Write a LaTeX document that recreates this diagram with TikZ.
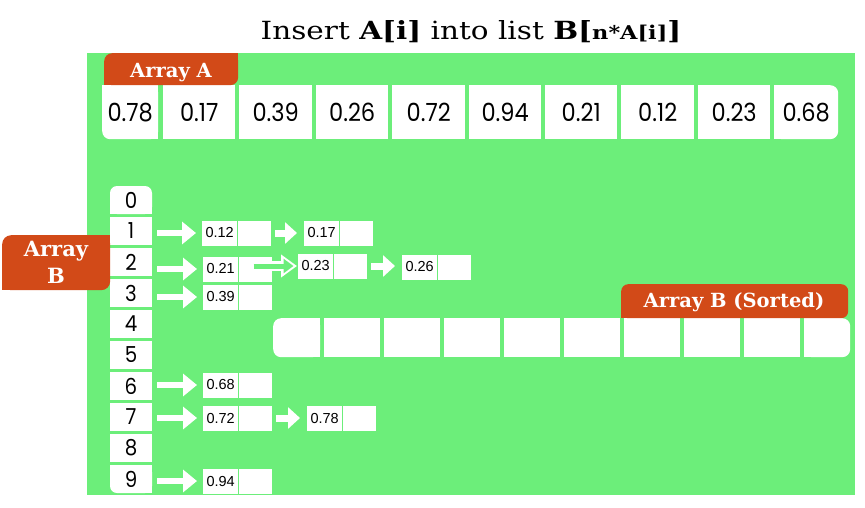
\documentclass[tikz,border=0pt]{standalone}
\usepackage{fontspec}
\setmainfont{Liberation Sans}
\newfontfamily\titlefont[FakeStretch=1.18]{DejaVu Serif}
\newfontfamily\labfont{DejaVu Serif}
\newfontfamily\numfont[FakeStretch=0.9]{Poppins}
\newfontfamily\listfont{Liberation Sans}
\usetikzlibrary{arrows.meta,calc}
\definecolor{bggreen}{RGB}{108,238,122}
\definecolor{labred}{RGB}{210,74,24}
\begin{document}
\begin{tikzpicture}[x=1pt,y=-1pt,
  cellA/.style={fill=white, inner sep=0pt, minimum height=54pt, anchor=north west,
    font=\numfont\fontsize{25}{25}\selectfont},
  idxcell/.style={fill=white, inner sep=0pt, minimum width=42pt, minimum height=28pt,
    font=\numfont\fontsize{22}{22}\selectfont},
  vbox/.style={fill=white, inner sep=0pt, minimum width=35pt, minimum height=25pt, anchor=west,
    font=\listfont\fontsize{14.5}{14.5}\selectfont},
  ebox/.style={fill=white, inner sep=0pt, minimum width=33pt, minimum height=25pt, anchor=west},
  scell/.style={fill=white, inner sep=0pt, minimum height=39pt, anchor=north west},
  labtext/.style={text=white, anchor=base, font=\labfont\bfseries\fontsize{19.5}{19.5}\selectfont},
  bigarrow/.style={white, line width=5.5pt, shorten <=5pt, shorten >=6pt,
    -{Triangle[length=14pt,width=22pt]}},
  smallarrow/.style={white, line width=7pt, shorten <=4pt, shorten >=7pt,
    -{Triangle[length=12pt,width=21pt]}}
]
\useasboundingbox (0,0) rectangle (865,507);
\fill[white] (0,0) rectangle (865,507);
% background
\fill[bggreen] (87,53) rectangle (855,495);

% title
\node[anchor=base, font=\titlefont\fontsize{25}{25}\selectfont] (title) at (471,39)
  {Insert \textbf{A[i]} into list \textbf{B[}{\bfseries\fontsize{19}{19}\selectfont n*A[i]}\textbf{]}};

% ---------- Array A ----------
\fill[white] (130,85) rectangle (158,139);
\fill[white] (102,85) rectangle (158,112);
\node[cellA, minimum width=56pt, rounded corners=8pt] (a1) at (102,85) {0.78};
\node[cellA, minimum width=72pt] (a2) at (163,85) {0.17};
\node[cellA, minimum width=73pt] (a3) at (239,85) {0.39};
\node[cellA, minimum width=72pt] (a4) at (316,85) {0.26};
\node[cellA, minimum width=73pt] (a5) at (392,85) {0.72};
\node[cellA, minimum width=72pt] (a6) at (469,85) {0.94};
\node[cellA, minimum width=72pt] (a7) at (545,85) {0.21};
\node[cellA, minimum width=73pt] (a8) at (621,85) {0.12};
\node[cellA, minimum width=72pt] (a9) at (698,85) {0.23};
\fill[white] (774,85) rectangle (806,139);
\node[cellA, minimum width=64pt, rounded corners=8pt] (a10) at (774,85) {0.68};

% label Array A
\fill[labred] (171,53) rectangle (238,69);
\fill[labred] (104,69) rectangle (171,85);
\node[fill=labred, rounded corners=8pt, minimum width=134pt, minimum height=32pt,
  inner sep=0pt, anchor=north west] (labA) at (104,53) {};
\node[labtext] (labAt) at (171,77) {Array A};

% ---------- Index column (Array B) ----------
\fill[white] (110,200) rectangle (152,214);
\node[idxcell, rounded corners=7pt] (idx0) at (131,200) {0};
\foreach \k in {1,...,8}
  \node[idxcell] (idx\k) at (131,{200+31*\k}) {\k};
\fill[white] (110,465) rectangle (152,479);
\fill[white] (131,465) rectangle (152,493);
\node[idxcell, rounded corners=7pt] (idx9) at (131,479) {9};

% label Array B
\fill[labred] (56,235) rectangle (110,262);
\fill[labred] (2,262) rectangle (56,290);
\node[fill=labred, rounded corners=9pt, minimum width=108pt, minimum height=55pt,
  inner sep=0pt, anchor=north west] (labB) at (2,235) {};
\node[labtext, font=\labfont\bfseries\fontsize{21}{21}\selectfont] (labBt1) at (56,256) {Array};
\node[labtext, font=\labfont\bfseries\fontsize{21}{21}\selectfont] (labBt2) at (56,283) {B};

% ---------- Lists ----------
% row 1
\node[vbox] (v12) at (202,233) {0.12};
\node[ebox] (e12) at (238,233) {};
\node[vbox] (v17) at (304,233) {0.17};
\node[ebox] (e17) at (340,233) {};
% row 2
\node[vbox] (v21) at (203,269) {0.21};
\node[ebox] (e21) at (239,269) {};
\node[vbox] (v23) at (298,266) {0.23};
\node[ebox] (e23) at (334,266) {};
\node[vbox] (v26) at (402,267) {0.26};
\node[ebox] (e26) at (438,267) {};
% row 3
\node[vbox] (v39) at (203,297) {0.39};
\node[ebox] (e39) at (239,297) {};
% row 6
\node[vbox] (v68) at (203,385) {0.68};
\node[ebox] (e68) at (239,385) {};
% row 7
\node[vbox] (v72) at (203,418) {0.72};
\node[ebox] (e72) at (239,418) {};
\node[vbox] (v78) at (307,418) {0.78};
\node[ebox] (e78) at (343,418) {};
% row 9
\node[vbox] (v94) at (203,481) {0.94};
\node[ebox] (e94) at (239,481) {};

% arrows from index
\draw[bigarrow] (idx1.east |- v12.west) -- (v12.west);
\draw[bigarrow] (idx2.east |- v21.west) -- (v21.west);
\draw[bigarrow] (idx3.east |- v39.west) -- (v39.west);
\draw[bigarrow] (idx6.east |- v68.west) -- (v68.west);
\draw[bigarrow] (idx7.east |- v72.west) -- (v72.west);
\draw[bigarrow] (idx9.east |- v94.west) -- (v94.west);
% arrows between list nodes
\draw[smallarrow] (e12.east) -- (v17.west |- e12.east);
\draw[smallarrow] (e23.east) -- (v26.west |- e23.east);
\draw[smallarrow] (e72.east) -- (v78.west |- e72.east);
% hollow arrow row 2
\draw[white, line width=10pt, shorten <=12pt, shorten >=1pt,
  -{Triangle[length=16pt,width=22pt]}] (e21.west |- v23.west) -- (v23.west);
\draw[bggreen, line width=5pt, shorten <=14.5pt, shorten >=4.5pt,
  -{Triangle[length=10pt,width=14pt]}] (e21.west |- v23.west) -- (v23.west);

% ---------- Array B (Sorted) ----------
\fill[white] (296,318) rectangle (320,357);
\node[scell, minimum width=47pt, rounded corners=8pt] (s1) at (273,318) {};
\node[scell, minimum width=56pt] (s2) at (324,318) {};
\node[scell, minimum width=56pt] (s3) at (384,318) {};
\node[scell, minimum width=56pt] (s4) at (444,318) {};
\node[scell, minimum width=56pt] (s5) at (504,318) {};
\node[scell, minimum width=56pt] (s6) at (564,318) {};
\node[scell, minimum width=56pt] (s7) at (624,318) {};
\node[scell, minimum width=56pt] (s8) at (684,318) {};
\node[scell, minimum width=56pt] (s9) at (744,318) {};
\fill[white] (804,318) rectangle (827,357);
\node[scell, minimum width=46pt, rounded corners=8pt] (s10) at (804,318) {};

\fill[labred] (621,301) rectangle (735,318);
\node[fill=labred, rounded corners=7pt, minimum width=227pt, minimum height=34pt,
  inner sep=0pt, anchor=north west] (labS) at (621,284) {};
\node[labtext] (labSt) at (734,307) {Array B (Sorted)};
\end{tikzpicture}
\end{document}
